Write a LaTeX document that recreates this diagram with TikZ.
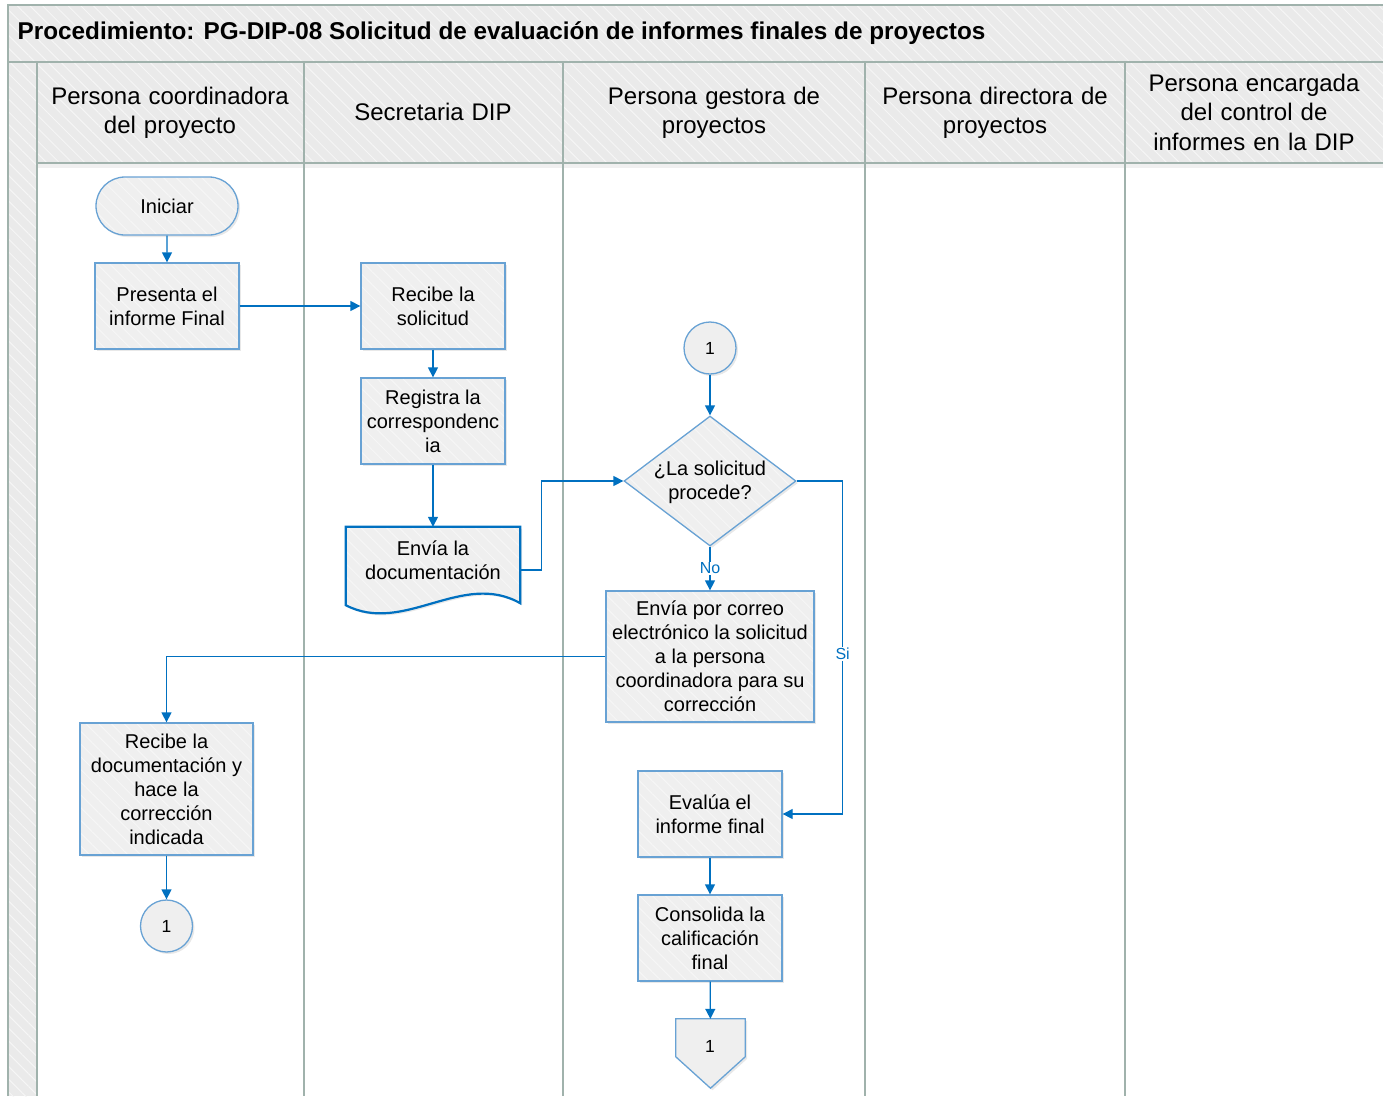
\documentclass[tikz,border=0pt]{standalone}
\usepackage{fontspec}
\setmainfont{Liberation Sans}
\usetikzlibrary{shapes.geometric,shapes.misc,arrows.meta,calc,shadows,patterns.meta}

\definecolor{lane}{RGB}{160,178,172}
\definecolor{hdr}{RGB}{234,234,234}
\definecolor{boxfill}{RGB}{239,239,239}
\definecolor{hatch}{RGB}{246,246,246}
\definecolor{boxline}{RGB}{104,162,212}
\definecolor{flow}{RGB}{0,112,192}

\begin{document}
\begin{tikzpicture}[x=1pt,y=-1pt,
  every node/.style={font=\fontsize{20}{24}\selectfont, align=center, inner sep=2pt},
  stripes/.style={pattern={Lines[angle=-45,distance=9pt,line width=1pt]}, pattern color=hatch},
  boxshadow/.style={drop shadow={shadow xshift=2pt, shadow yshift=-2pt, opacity=0.18}},
  % shadow, then fill, then light stripes, then the outline on top
  shapebody/.style={boxshadow, preaction={fill=boxfill}, preaction={stripes}, draw=boxline, line width=1.3pt},
  stepbox/.style={shapebody, minimum width=144pt, minimum height=86pt},
  termbox/.style={shapebody, rounded rectangle, minimum width=146pt, minimum height=58pt},
  linkcircle/.style={boxshadow, draw=boxline, fill=boxfill, line width=1.3pt, circle, minimum size=52pt, inner sep=0pt, font=\fontsize{17.5}{20}\selectfont},
  decision/.style={shapebody, diamond, aspect=1.32, inner sep=0pt, minimum width=172pt, minimum height=130pt},
  flowline/.style={draw=flow, line width=1.3pt, -{Triangle[length=10pt,width=10pt]}},
  branchlabel/.style={fill=white, text=flow, inner sep=1pt, font=\fontsize{16}{18}\selectfont},
  lanehead/.style={font=\fontsize{24}{29.5}\selectfont, text width=250pt},
  laneline/.style={draw=lane, line width=1.6pt}
]
\useasboundingbox (0,0) rectangle (1383,1096);

% pool frame, title bar and lane header band
\fill[hdr, postaction={stripes}] (8,5) rectangle (1383,62);
\fill[hdr, postaction={stripes}] (8,62) rectangle (37,1096);
\fill[hdr, postaction={stripes}] (37,62) rectangle (1383,163);
\fill[black, opacity=0.06] (37,164) rectangle (1383,168);
\draw[laneline] (8,1096) -- (8,5) -- (1383,5);
\draw[laneline] (8,62) -- (1383,62);
\draw[laneline] (37,163) -- (1383,163);
\foreach \lx in {37,304,563,865,1125}
  \draw[laneline] (\lx,62) -- (\lx,1096);

\node[anchor=west, font=\fontsize{24.3}{28}\bfseries] (title) at (15.5,33)
  {Procedimiento: PG-DIP-08 Solicitud de evaluación de informes finales de proyectos};

% lane headers
\node[lanehead] (h1) at (170,113) {Persona coordinadora\\del proyecto};
\node[lanehead] (h2) at (433,112) {Secretaria DIP};
\node[lanehead] (h3) at (714,113) {Persona gestora de\\proyectos};
\node[lanehead] (h4) at (995,113) {Persona directora de\\proyectos};
\node[lanehead] (h5) at (1254,112) {Persona encargada\\del control de\\informes en la DIP};

% steps
\node[termbox] (ini) at (167,206) {Iniciar};
\node[stepbox] (pres) at (167,306) {Presenta el\\informe Final};
\node[stepbox] (recsol) at (433,306) {Recibe la\\solicitud};
\node[stepbox] (reg) at (433,421) {Registra la\\correspondenc\\ia};

% document shape
\node[minimum width=174pt, minimum height=86pt, inner sep=0pt] (doc) at (433,570) {};
\draw[shapebody, draw=flow, line width=2.2pt]
  (doc.north west) -- (doc.north east) -- ($(doc.south east)+(0,-10)$)
  .. controls ($(doc.south east)+(-58,-43)$) and ($(doc.south west)+(58,22)$) .. ($(doc.south west)+(0,-8)$)
  -- cycle;
\node (doctext) at (433,560) {Envía la\\documentación};

\node[linkcircle] (con1) at (710,348) {1};
\node[decision] (dec) at (710,481) {};
\node (dectext) at (710,482) {¿La solicitud\\procede?};
\node[stepbox, minimum width=208pt, minimum height=131pt] (mail) at (710,656.5)
  {Envía por correo\\electrónico la solicitud\\a la persona\\coordinadora para su\\corrección};
\node[stepbox] (eval) at (710,814) {Evalúa el\\informe final};
\node[stepbox] (cons) at (710,938) {Consolida la\\calificación\\final};

% off-page reference
\node[minimum width=69pt, minimum height=69pt, inner sep=0pt] (offpg) at (710.5,1053.5) {};
\draw[boxshadow, draw=boxline, fill=boxfill, line width=1.3pt]
  (offpg.north west) -- (offpg.north east) -- ($(offpg.north east)+(0,38)$)
  -- (offpg.south) -- ($(offpg.north west)+(0,38)$) -- cycle;
\node[font=\fontsize{17.5}{20}\selectfont] (offtext) at (710,1046) {1};

\node[stepbox, minimum width=173pt, minimum height=132pt] (recdoc) at (166.5,789)
  {Recibe la\\documentación y\\hace la\\corrección\\indicada};
\node[linkcircle] (con2) at (166.5,926) {1};

% connectors
\draw[flowline] (ini) -- (pres);
\draw[flowline] (pres) -- (recsol);
\draw[flowline] (recsol) -- (reg);
\draw[flowline] (reg) -- (doc);
\draw[flowline] (doc.east) -- ++(21,0) |- (dec.west);
\draw[flowline] (con1) -- (dec);
\draw[flowline] (dec.south) -- node[branchlabel] {No} (mail.north);
\draw[flowline] (dec.east) -- ++(46,0) |- node[branchlabel, pos=0.26] {Si} (eval.east);
\draw[flowline] (mail.west) -| (recdoc.north);
\draw[flowline] (recdoc) -- (con2);
\draw[flowline] (eval) -- (cons);
\draw[flowline] (cons) -- (offpg);
\end{tikzpicture}
\end{document}
